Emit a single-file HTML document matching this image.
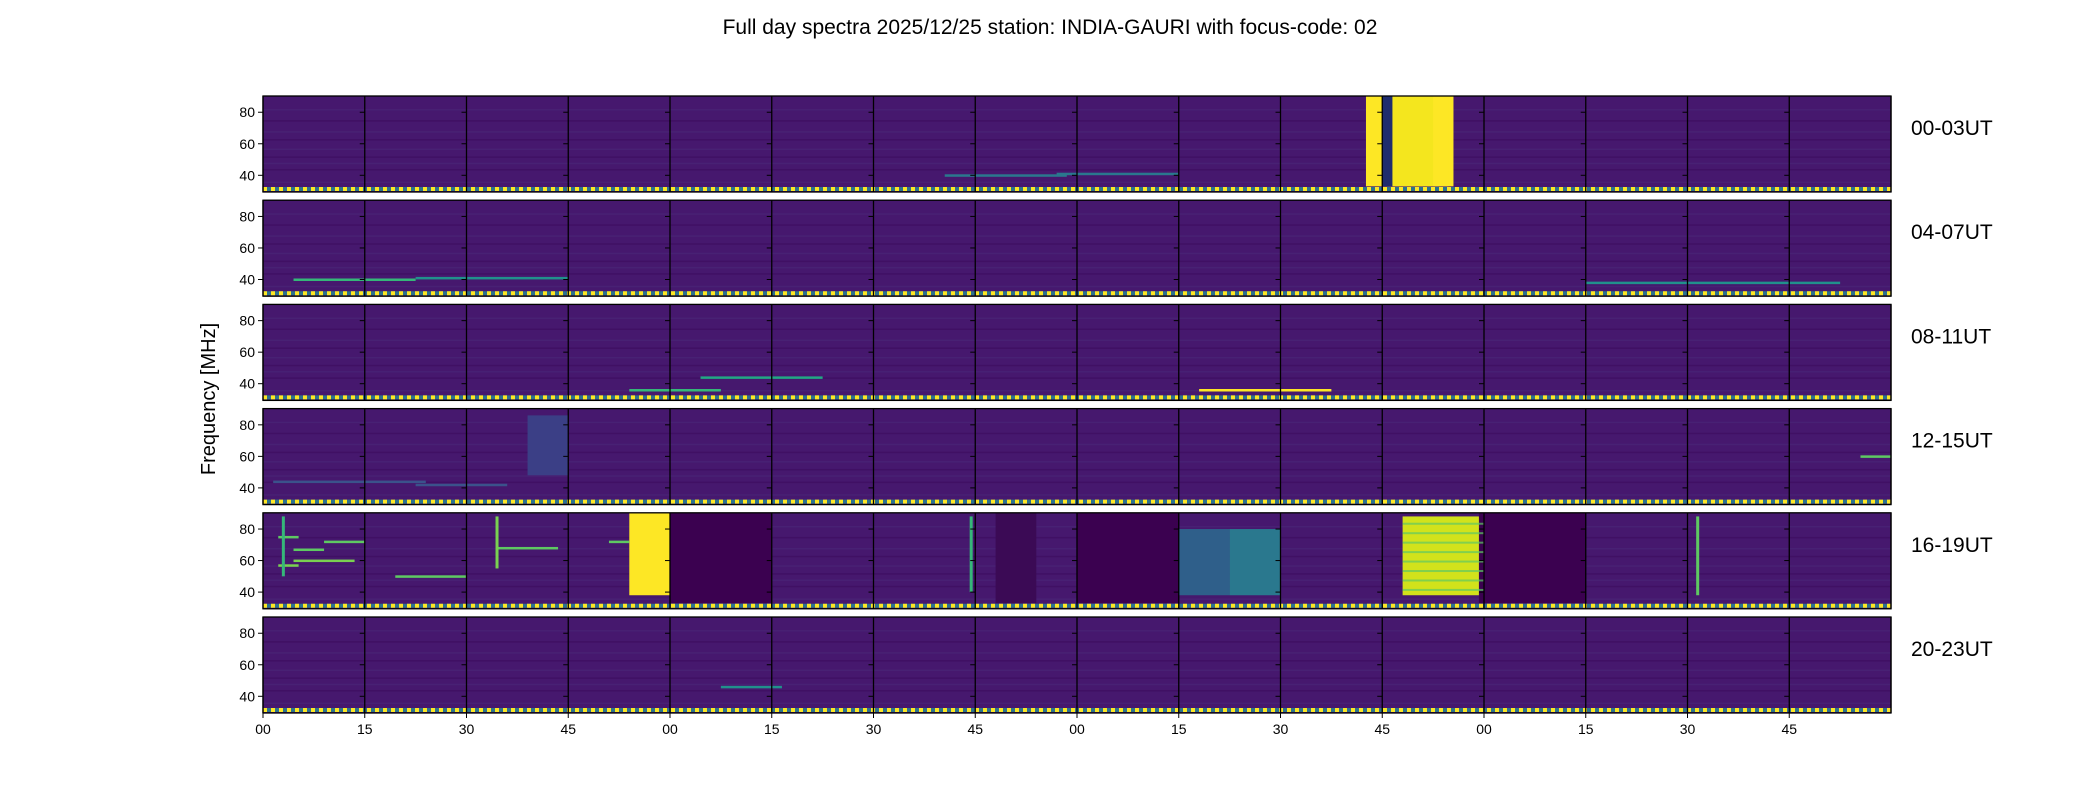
<!DOCTYPE html>
<html><head><meta charset="utf-8"><style>
body{margin:0;background:#fff;}
svg{display:block;font-family:"Liberation Sans","DejaVu Sans",sans-serif;}
</style></head><body>
<svg id="fig" width="2100" height="800" viewBox="0 0 2100 800" xmlns="http://www.w3.org/2000/svg">
<text x="1050" y="34" font-size="21" text-anchor="middle">Full day spectra 2025/12/25 station: INDIA-GAURI with focus-code: 02</text>
<text transform="translate(215,399) rotate(-90)" font-size="20" text-anchor="middle">Frequency [MHz]</text>
<g id="panels"></g>
</svg>
<script>
const rowLabels=["00-03UT","04-07UT","08-11UT","12-15UT","16-19UT","20-23UT"];
const xTickLabels=["00","15","30","45","00","15","30","45","00","15","30","45","00","15","30","45"];
const yTicks=[40,60,80];
// feature rectangles: row, t0, t1 (column units), f0, f1 (MHz)
const featRow=[0,0,0,0,4,4,4,4,4,4,4,4,3];
const featT0=[10.84,11.05,11.5,11.0,3.6,4.0,11.2,11.95,9.0,9.5,7.2,8.0,2.6];
const featT1=[11.7,11.55,11.65,11.1,4.0,5.0,12.0,13.0,9.5,10.0,7.6,9.0,3.0];
const featF0=[33,33,33,33,38,33,38,33,38,38,33,33,48];
const featF1=[90,90,90,90,90,90,88,90,80,80,90,90,86];
const featColor=["#fde725","#f4e61e","#fde725","#1f2d6e","#fde725","#3b0150","#d2e21b","#3b0150","#2f5f8a","#2a788e","#3b0a55","#3b0150","#3b3f86"];
// bright horizontal lines: row, t0, t1, freq
const lineRow=[0,0,1,1,1,2,2,2,3,3,4,4,4,4,4,4,4,4,5,3];
const lineT0=[6.7,7.8,0.3,1.5,13.0,3.6,4.3,9.2,0.1,1.5,0.15,0.15,0.3,0.6,1.3,2.3,3.4,0.3,4.5,15.7];
const lineT1=[7.9,9.0,1.5,3.0,15.5,4.5,5.5,10.5,1.6,2.4,0.35,0.35,0.6,1.0,2.0,2.9,3.6,0.9,5.1,16.0];
const lineF=[40,41,40,41,38,36,44,36,44,42,75,57,67,72,50,68,72,60,46,60];
const lineColor=["#2a788e","#2a788e","#35b779","#21918c","#21918c","#35b779","#22a884","#fde725","#3b528b","#3b528b","#5ec962","#7ad151","#5ec962","#5ec962","#5ec962","#5ec962","#5ec962","#7ad151","#21918c","#5ec962"];
// vertical bright lines: row, t, f0, f1
const vRow=[4,4,4,4];
const vT=[14.1,6.96,2.3,0.2];
const vF0=[38,40,55,50];
const vF1=[88,88,88,88];
const vColor=["#5ec962","#35b779","#7ad151","#35b779"];

const NS="http://www.w3.org/2000/svg";
const L=263,R=1891,NC=16,colW=(R-L)/NC;
const rowTop0=96,rowH=96,pitch=104.2;
const fMin=29.4,fMax=90.3;
const g=document.getElementById('panels');
function mk(t,a){const e=document.createElementNS(NS,t);for(const k in a)e.setAttribute(k,a[k]);return e;}
function xOf(r,t){return L+t*colW;}
function yOf(r,f){return rowTop0+r*pitch+(fMax-f)/(fMax-fMin)*rowH;}
for(let r=0;r<6;r++){
  const top=rowTop0+r*pitch;
  const bg=mk('rect',{x:L,y:top,width:R-L,height:rowH,fill:'#46186e'});
  
  
  g.appendChild(bg);
  [36,44,48,52,57,63,68,75,82].forEach((f,i)=>{
    g.appendChild(mk('rect',{x:L,y:yOf(r,f),width:R-L,height:1.5,fill:i%2?'#3e0f62':'#482475',opacity:0.8}));
  });
}
for(let i=0;i<featRow.length;i++){
  const r=featRow[i];
  const e=mk('rect',{x:xOf(r,featT0[i]),y:yOf(r,featF1[i]),width:(featT1[i]-featT0[i])*colW,height:(featF1[i]-featF0[i])/(fMax-fMin)*rowH,fill:featColor[i]});
  
  
  g.appendChild(e);
}
[42,48,54,60,66,72,78,84].forEach(f=>{
  g.appendChild(mk('rect',{x:xOf(4,11.2),y:yOf(4,f),width:0.8*colW,height:2,fill:'#5ec962',opacity:0.7}));
});
for(let i=0;i<lineRow.length;i++){
  const r=lineRow[i];
  const e=mk('rect',{x:xOf(r,lineT0[i]),y:yOf(r,lineF[i])-1,width:(lineT1[i]-lineT0[i])*colW,height:2.5,fill:lineColor[i]});
  
  
  g.appendChild(e);
}
for(let i=0;i<vRow.length;i++){
  const r=vRow[i];
  const e=mk('rect',{x:xOf(r,vT[i])-1.5,y:yOf(r,vF1[i]),width:3,height:(vF1[i]-vF0[i])/(fMax-fMin)*rowH,fill:vColor[i]});
  
  
  g.appendChild(e);
}
for(let r=0;r<6;r++){
  const top=rowTop0+r*pitch;
  const yd=top+rowH-3;
  g.appendChild(mk('line',{x1:L,x2:R,y1:yd,y2:yd,stroke:'#2c728e','stroke-width':4}));
  g.appendChild(mk('line',{x1:L,x2:R,y1:yd,y2:yd,stroke:'#fde725','stroke-width':4,'stroke-dasharray':'4 4'}));
  for(let c=0;c<=NC;c++){
    const x=L+c*colW;
    g.appendChild(mk('line',{x1:x,x2:x,y1:top,y2:top+rowH,stroke:'#000','stroke-width':1.3}));
    if(c>0&&c<NC) yTicks.forEach(v=>{const y=yOf(r,v);g.appendChild(mk('line',{x1:x-5,x2:x,y1:y,y2:y,stroke:'#000','stroke-width':1}));});
  }
  g.appendChild(mk('rect',{x:L,y:top,width:R-L,height:rowH,fill:'none',stroke:'#000','stroke-width':1.3}));
  yTicks.forEach(v=>{
    const y=yOf(r,v);
    g.appendChild(mk('line',{x1:L-5,x2:L,y1:y,y2:y,stroke:'#000','stroke-width':1}));
    const t=mk('text',{x:L-8,y:y+5,'font-size':14,'text-anchor':'end'});
    t.textContent=v;
    
    
    g.appendChild(t);
  });
  const lab=mk('text',{x:1911,y:top+39,'font-size':21});
  lab.textContent=rowLabels[r];
  
  
  g.appendChild(lab);
}
const bottom=rowTop0+5*pitch+rowH;
xTickLabels.forEach((s,c)=>{
  const x=L+c*colW;
  g.appendChild(mk('line',{x1:x,x2:x,y1:bottom,y2:bottom+5,stroke:'#000','stroke-width':1}));
  const t=mk('text',{x:x,y:bottom+21,'font-size':14,'text-anchor':'middle'});
  t.textContent=s;
  
  
  g.appendChild(t);
});
</script>
</body></html>
